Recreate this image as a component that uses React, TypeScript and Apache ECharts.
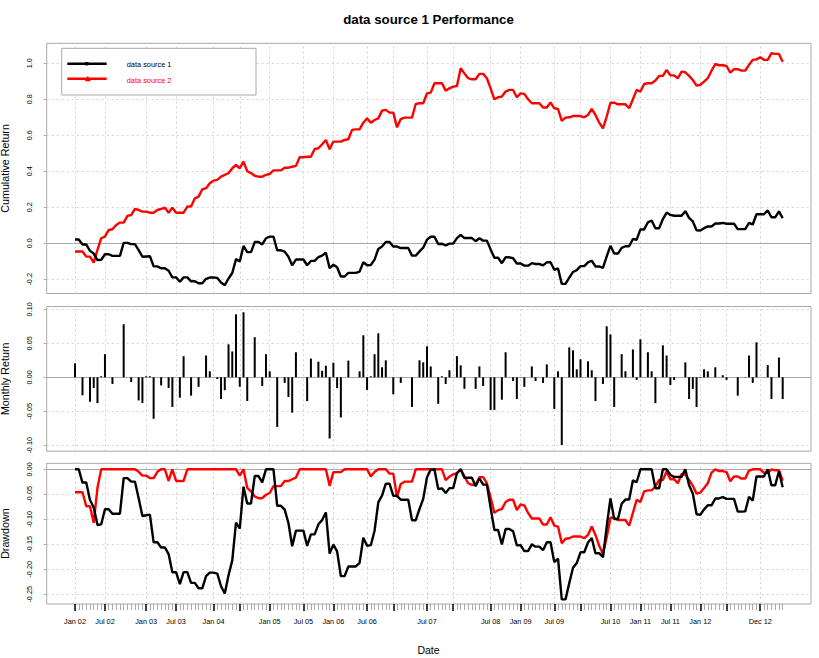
import React, { useEffect, useRef } from 'react';
import * as echarts from 'echarts';

const chartTitle = 'data source 1 Performance';
const seriesNames = ['data source 1', 'data source 2'];
const seriesColors = ['#000000', '#ff0000'];

// major time ticks (observation index) and their labels ('' = unlabeled tick)
const tickIndex = [0, 8, 19, 27, 37, 44, 52, 61, 69, 78, 85, 94, 101, 111, 119, 128, 135, 143, 151, 159, 167, 174, 183];
const tickLabels = ['Jan 02', 'Jul 02', 'Jan 03', 'Jul 03', 'Jan 04', '', 'Jan 05', 'Jul 05', 'Jan 06', 'Jul 06', '', 'Jul 07', '', 'Jul 08', 'Jan 09', 'Jul 09', '', 'Jul 10', 'Jan 11', 'Jul 11', 'Jan 12', '', 'Dec 12'];

// periodic returns of data source 1 (bars)
const returns1 = [
  0.0206, 0, -0.0265, 0, -0.036, -0.0157, -0.038, 0.0015, 0.034, 0,
  -0.0098, 0, 0, 0.078, 0, -0.007, 0, -0.034, -0.0377, 0.0015,
  0.0015, -0.061, 0, -0.012, 0, -0.0157, -0.0436, 0, -0.03, 0.031,
  0, -0.027, 0, -0.014, 0, 0.032, 0.0088, 0, -0.0025, -0.032,
  -0.019, 0.0485, 0.038, 0.0926, -0.014, 0.0956, -0.035, 0, 0.059, 0,
  -0.0127, 0.034, 0.0088, 0, -0.073, 0, -0.0083, -0.029, -0.052, 0.0368,
  0, 0, -0.035, 0.0275, 0, 0.023, 0.0095, 0.017, -0.090, 0.0215,
  -0.016, -0.059, 0, 0.0245, 0, 0, 0.0088, 0.0618, -0.0186, 0.0015,
  0.034, 0.0647, 0.0147, 0.025, 0, -0.025, 0, -0.0083, 0, 0,
  -0.0436, 0, 0.025, 0.022, 0.0456, 0.016, 0, -0.039, 0.0015, -0.0098,
  0.0103, 0, 0.031, 0.0176, -0.017, 0, 0, -0.017, 0.016, -0.0127,
  0, -0.048, -0.048, 0, -0.033, 0.0368, 0, -0.0054, -0.032, 0.0005,
  -0.014, 0, 0.016, -0.0054, 0, -0.0083, 0.019, 0, -0.0466, 0.0088,
  -0.0995, 0, 0.044, 0.0397, 0.0118, 0.0265, 0, 0.0235, 0.0103, -0.035,
  0, -0.0098, 0.075, 0.063, -0.0436, 0, 0.034, 0.0088, 0, 0.041,
  -0.0039, 0.056, 0, 0.0368, 0.0088, -0.038, 0, 0.047, 0.032, -0.0113,
  -0.0039, 0, 0, 0.022, -0.032, -0.017, -0.0436, -0.001, 0.0118, 0.0088,
  0, 0.0147, 0, 0.003, -0.0039, 0, 0, -0.027, 0, 0.0005,
  0.032, -0.0083, 0.0515, 0, 0, 0.018, -0.032, 0, 0.029, -0.032,
];

// cumulative return of data source 2
const cumulative2 = [
  -0.046, -0.046, -0.046, -0.074, -0.074, -0.107, -0.037, 0.028, 0.037, 0.074,
  0.078, 0.102, 0.115, 0.115, 0.152, 0.157, 0.191, 0.185, 0.176, 0.176,
  0.170, 0.170, 0.185, 0.191, 0.198, 0.170, 0.198, 0.170, 0.170, 0.170,
  0.204, 0.204, 0.250, 0.259, 0.300, 0.306, 0.333, 0.348, 0.352, 0.370,
  0.380, 0.389, 0.417, 0.435, 0.417, 0.454, 0.400, 0.390, 0.375, 0.370,
  0.370, 0.380, 0.385, 0.405, 0.405, 0.405, 0.420, 0.420, 0.425, 0.430,
  0.478, 0.478, 0.481, 0.481, 0.524, 0.528, 0.550, 0.574, 0.522, 0.565,
  0.565, 0.565, 0.574, 0.578, 0.630, 0.633, 0.633, 0.670, 0.694, 0.670,
  0.685, 0.694, 0.737, 0.741, 0.726, 0.726, 0.644, 0.690, 0.698, 0.698,
  0.698, 0.774, 0.778, 0.778, 0.833, 0.837, 0.889, 0.889, 0.889, 0.848,
  0.861, 0.870, 0.874, 0.972, 0.944, 0.917, 0.911, 0.911, 0.941, 0.941,
  0.917, 0.861, 0.800, 0.811, 0.815, 0.843, 0.852, 0.852, 0.811, 0.833,
  0.830, 0.800, 0.778, 0.778, 0.778, 0.754, 0.754, 0.783, 0.750, 0.746,
  0.680, 0.698, 0.700, 0.707, 0.707, 0.707, 0.700, 0.713, 0.746, 0.713,
  0.670, 0.639, 0.704, 0.781, 0.781, 0.772, 0.772, 0.772, 0.750, 0.800,
  0.852, 0.843, 0.885, 0.889, 0.889, 0.904, 0.930, 0.930, 0.963, 0.933,
  0.933, 0.917, 0.954, 0.950, 0.930, 0.907, 0.876, 0.880, 0.898, 0.917,
  0.959, 0.996, 0.989, 0.989, 0.985, 0.948, 0.967, 0.967, 0.959, 0.959,
  0.991, 1.019, 1.022, 1.033, 1.019, 1.019, 1.056, 1.052, 1.052, 1.009,
];

const cumTicks = [-0.2, 0, 0.2, 0.4, 0.6, 0.8, 1.0];
const retTicks = [-0.1, -0.05, 0, 0.05, 0.1];
const ddTicks = [-0.25, -0.2, -0.15, -0.1, -0.05, 0];

const FONT = '"Liberation Sans", Arial, Helvetica, sans-serif';
const GRAY = '#a9a9a9';
const DOT = { color: '#d3d3d3', type: [2, 3] as number[], width: 1 };

function buildOption() {
  const n = returns1.length;
  const idx = returns1.map((_, i) => i);
  let w = 1;
  const cumulative1 = returns1.map((r) => {
    w *= 1 + r;
    return w - 1;
  });
  const drawdown = (cum: number[]) => {
    let peak = 1;
    return cum.map((c) => {
      const v = 1 + c;
      if (v > peak) peak = v;
      return v / peak - 1;
    });
  };
  const dd1 = drawdown(cumulative1);
  const dd2 = drawdown(cumulative2);

  const xMin = -(n - 1) * 0.04;
  const xMax = (n - 1) * 1.04;
  const left = 46.7;
  const width = 764.3;
  const grids = [
    { left, width, top: 43.3, height: 250.2 },
    { left, width, top: 306.5, height: 144.7 },
    { left, width, top: 463.3, height: 140.7 },
  ].map((g) => ({ ...g, show: true, borderColor: GRAY, borderWidth: 1, backgroundColor: 'transparent' }));

  const labeledIdx = tickIndex.filter((_, k) => tickLabels[k] !== '');
  const minorIdx = idx.filter((i) => tickIndex.indexOf(i) < 0);
  const labelMap: Record<number, string> = {};
  tickIndex.forEach((t, k) => (labelMap[t] = tickLabels[k]));

  const xBase = (gi: number) => ({
    type: 'value',
    gridIndex: gi,
    min: xMin,
    max: xMax,
    position: 'bottom',
    axisLine: { show: false, onZero: false },
    axisTick: { show: false },
    axisLabel: { show: false },
    splitLine: { show: false },
  });

  const xAxis: any[] = [
    xBase(0),
    xBase(1),
    {
      ...xBase(2),
      z: 3,
      axisTick: { show: true, customValues: tickIndex, length: 7, lineStyle: { color: '#000', width: 1.5 } },
      axisLabel: {
        show: true,
        customValues: labeledIdx,
        margin: 13.5,
        fontSize: 7.3,
        fontFamily: FONT,
        color: '#000',
        formatter: (v: number) => labelMap[Math.round(v)] || '',
      },
    },
    {
      ...xBase(2),
      axisTick: { show: true, customValues: minorIdx, length: 6, lineStyle: { color: GRAY, width: 1 } },
    },
  ];

  const yAx = (gi: number, min: number, max: number, ticks: number[], dec: number) => ({
    type: 'value',
    gridIndex: gi,
    min,
    max,
    axisLine: { show: false, onZero: false },
    axisTick: { show: true, length: 3, customValues: ticks, lineStyle: { color: GRAY } },
    axisLabel: {
      customValues: ticks,
      rotate: 90,
      margin: 13.5,
      fontSize: 7.3,
      fontFamily: FONT,
      color: '#000',
      formatter: (v: number) => v.toFixed(dec),
    },
    splitLine: { show: false },
  });

  const yAxis = [
    yAx(0, -0.279, 1.111, cumTicks, 1),
    yAx(1, -0.1087, 0.1041, retTicks, 2),
    yAx(2, -0.2694, 0.012, ddTicks, 2),
  ];

  // dotted grid at the tick positions plus solid zero reference line
  const gridLines = (yTicks: number[]) => ({
    silent: true,
    symbol: ['none', 'none'],
    label: { show: false },
    z: 1,
    lineStyle: DOT,
    data: [
      ...tickIndex.map((t) => ({ xAxis: t })),
      ...yTicks.map((v) => ({ yAxis: v })),
      { yAxis: 0, lineStyle: { color: GRAY, type: 'solid', width: 1 } },
    ],
  });

  const line = (gi: number, arr: number[], color: string, z: number, yTicks?: number[]) => ({
    type: 'line',
    xAxisIndex: gi,
    yAxisIndex: gi,
    data: idx.map((i) => [i, arr[i]]),
    showSymbol: false,
    symbol: 'none',
    silent: true,
    z,
    lineStyle: { color, width: 2.4 },
    ...(yTicks ? { markLine: gridLines(yTicks) } : {}),
  });

  const series: any[] = [
    line(0, cumulative2, seriesColors[1], 2, cumTicks),
    line(0, cumulative1, seriesColors[0], 3),
    {
      type: 'bar',
      xAxisIndex: 1,
      yAxisIndex: 1,
      data: idx.map((i) => [i, returns1[i]]),
      barWidth: 2,
      silent: true,
      z: 2,
      itemStyle: { color: '#000' },
      markLine: gridLines(retTicks),
    },
    line(2, dd2, seriesColors[1], 2, ddTicks),
    line(2, dd1, seriesColors[0], 3),
  ];

  const txt = (text: string, x: number, y: number, size: number, opts: any = {}) => ({
    type: 'text',
    x,
    y,
    rotation: opts.rotation || 0,
    z: 100,
    style: {
      text,
      fill: opts.fill || '#000',
      font: `${opts.bold ? 'bold ' : ''}${size}px ${FONT}`,
      align: opts.align || 'center',
      verticalAlign: 'middle',
      textAlign: opts.align || 'center',
      textVerticalAlign: 'middle',
    },
  });

  const graphic: any[] = [
    txt(chartTitle, 428.5, 19, 13.3, { bold: true }),
    txt('Cumulative Return', 4.5, 168.4, 10.7, { rotation: Math.PI / 2 }),
    txt('Monthly Return', 4.5, 378.8, 10.7, { rotation: Math.PI / 2 }),
    txt('Drawdown', 4.5, 533.6, 10.7, { rotation: Math.PI / 2 }),
    txt('Date', 428.5, 650, 10.5),
    {
      type: 'rect',
      z: 100,
      shape: { x: 61.7, y: 48.3, width: 194.3, height: 46.7 },
      style: { fill: '#fff', stroke: GRAY, lineWidth: 1 },
    },
    {
      type: 'line',
      z: 101,
      shape: { x1: 67.3, y1: 63.7, x2: 106.7, y2: 63.7 },
      style: { stroke: seriesColors[0], lineWidth: 2.5 },
    },
    {
      type: 'rect',
      z: 102,
      shape: { x: 85.1, y: 62, width: 3.4, height: 3.4 },
      style: { fill: seriesColors[0] },
    },
    {
      type: 'line',
      z: 101,
      shape: { x1: 67.3, y1: 78.7, x2: 106.7, y2: 78.7 },
      style: { stroke: seriesColors[1], lineWidth: 2.5 },
    },
    {
      type: 'polygon',
      z: 102,
      shape: { points: [[87.8, 75.8], [90.8, 81.3], [84.8, 81.3]] },
      style: { fill: seriesColors[1] },
    },
    txt(seriesNames[0], 126.7, 64.5, 7.4, { align: 'left', fill: seriesColors[0] }),
    txt(seriesNames[1], 126.7, 80.5, 7.4, { align: 'left', fill: seriesColors[1] }),
  ];

  return {
    animation: false,
    backgroundColor: '#ffffff',
    grid: grids,
    xAxis,
    yAxis,
    series,
    graphic,
  };
}

export default function App() {
  const ref = useRef<HTMLDivElement>(null);
  useEffect(() => {
    if (!ref.current) return;
    const chart = echarts.init(ref.current, undefined, { renderer: 'svg' });
    chart.setOption(buildOption() as any);
    return () => chart.dispose();
  }, []);
  return (
    <div
      ref={ref}
      style={{ position: 'absolute', left: 0, top: 0, width: 819, height: 658, background: '#fff' }}
    />
  );
}
